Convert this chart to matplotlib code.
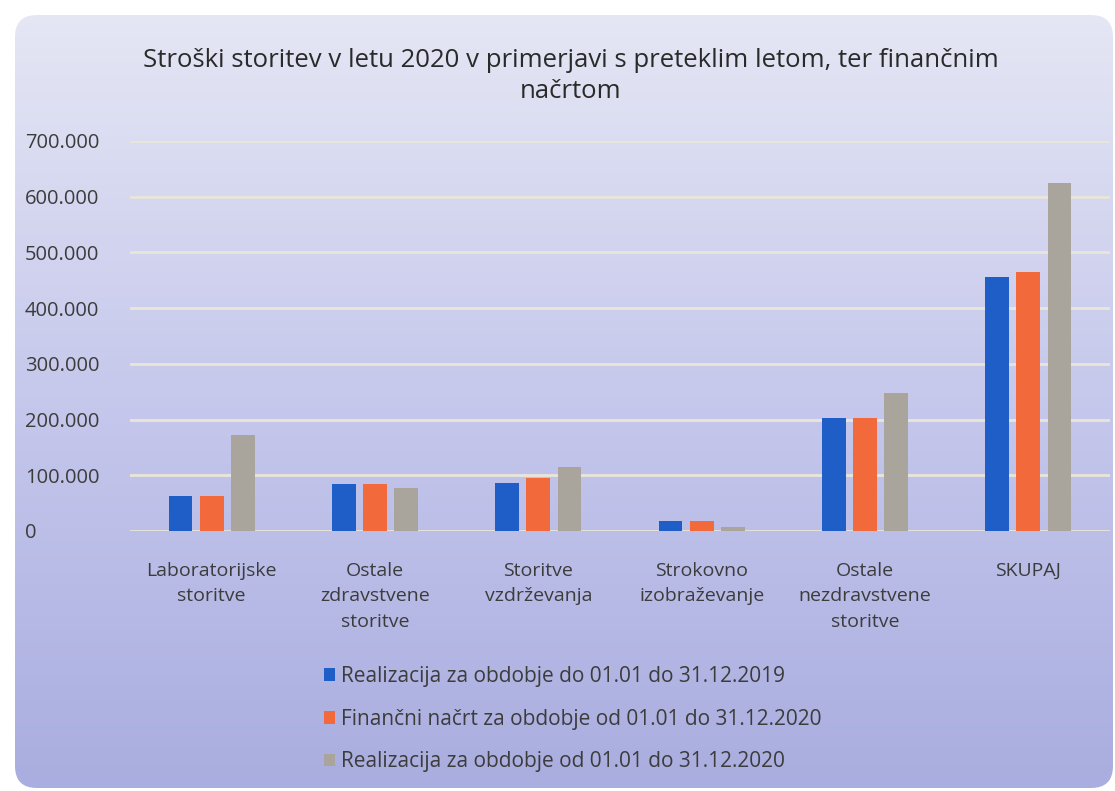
import matplotlib.pyplot as plt
import matplotlib.patches as patches
from matplotlib.colors import LinearSegmentedColormap
import numpy as np

categories = ["Laboratorijske\nstoritve", "Ostale\nzdravstvene\nstoritve", "Storitve\nvzdrževanja",
              "Strokovno\nizobraževanje", "Ostale\nnezdravstvene\nstoritve", "SKUPAJ"]
real_2019 = [63000, 84000, 87000, 18000, 202000, 456000]
plan_2020 = [63000, 84000, 96000, 18000, 202000, 464000]
real_2020 = [172000, 77000, 114000, 7000, 247000, 625000]
series_labels = ["Realizacija za obdobje do 01.01 do 31.12.2019",
                 "Finančni načrt za obdobje od 01.01 do 31.12.2020",
                 "Realizacija za obdobje od 01.01 do 31.12.2020"]
colors = ["#1f5ec6", "#f2693c", "#a9a59d"]
yticks = [0, 100000, 200000, 300000, 400000, 500000, 600000, 700000]
ytick_labels = ["0", "100.000", "200.000", "300.000", "400.000", "500.000", "600.000", "700.000"]

plt.rcParams['font.family'] = ['Open Sans', 'DejaVu Sans']
text_col = "#3c3c3c"

W, H = 1115, 791
fig = plt.figure(figsize=(W / 100, H / 100), dpi=100)
fig.patch.set_facecolor("white")

# background panel with gradient (rounded box, like the office chart area)
bg = fig.add_axes([0, 0, 1, 1], zorder=0)
bg.set_xlim(0, W)
bg.set_ylim(H, 0)
bg.axis('off')
cmap = LinearSegmentedColormap.from_list("bg", ["#e6e8f5", "#c6c8ec", "#a9addf"])
grad = np.linspace(0, 1, 256).reshape(-1, 1)
im = bg.imshow(grad, extent=[0, W, H, 0], aspect='auto', cmap=cmap)
panel = patches.FancyBboxPatch((15, 15), 1098, 773,
                               boxstyle="round,pad=0,rounding_size=22",
                               facecolor="none", edgecolor="none")
bg.add_patch(panel)
im.set_clip_path(panel)

top_px, zero_px = 141, 531
ax = fig.add_axes([130 / W, 1 - zero_px / H, (1110 - 130) / W, (zero_px - top_px) / H], zorder=1)
ax.patch.set_alpha(0)

x = np.arange(len(categories))
slot = 0.19
width = 0.145
handles = []
for i, (vals, c, lab) in enumerate(zip([real_2019, plan_2020, real_2020], colors, series_labels)):
    b = ax.bar(x + (i - 1) * slot, vals, width, color=c, label=lab, zorder=3)
    handles.append(b)

ax.set_ylim(0, 700000)
ax.set_xlim(-0.5, len(categories) - 0.5)
ax.set_yticks(yticks)
ax.set_yticklabels(ytick_labels)
ax.yaxis.grid(True, color="#e9e6d8", linewidth=2, zorder=0)
ax.set_axisbelow(True)
for s in ax.spines.values():
    s.set_visible(False)
ax.tick_params(length=0, colors=text_col)
ax.tick_params(axis='y', labelsize=14.5, pad=0)
ax.tick_params(axis='x', labelsize=14, pad=22)
ax.set_xticks(x)
ax.set_xticklabels(categories, linespacing=1.55)
for t in ax.get_yticklabels():
    t.set_horizontalalignment('left')
    t.set_x(-105 / 980)

fig.text(0.512, 1 - 76 / H, "Stroški storitev v letu 2020 v primerjavi s preteklim letom, ter finančnim\nnačrtom",
         ha='center', va='center', fontsize=18.5, color="#2a2a2a", linespacing=1.35)

fig.legend(handles=handles, loc='upper left', bbox_to_anchor=(305 / W, 1 - 647 / H), frameon=False,
           fontsize=15, labelcolor=text_col, handlelength=0.55, handleheight=0.55,
           handletextpad=0.3, labelspacing=1.05)

fig.savefig("out.png", dpi=100)
